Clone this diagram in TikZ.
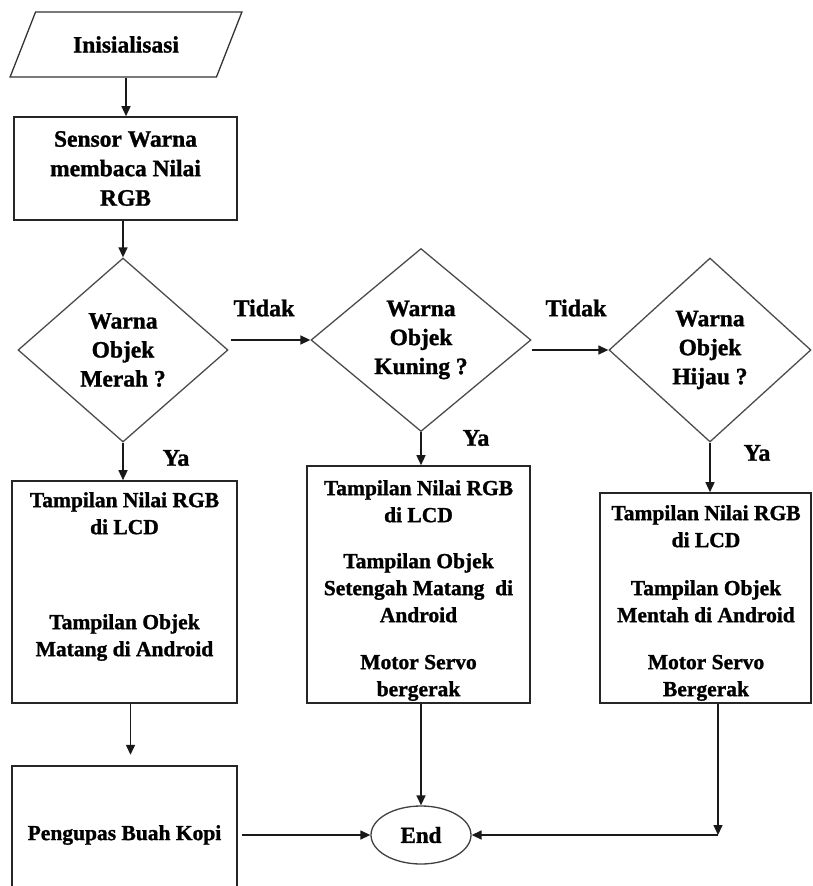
\documentclass[tikz,border=0pt]{standalone}
\usepackage{fontspec}
\setmainfont{Liberation Serif}[BoldFeatures={FakeBold=1.2}]
\usetikzlibrary{shapes.geometric,arrows.meta,calc}
\begin{document}
\begin{tikzpicture}[x=1pt,y=-1pt,
  every node/.style={font=\bfseries\fontsize{21.5}{27}\selectfont, align=center, inner sep=0pt, text=black},
  boxline/.style={draw=black!85, line width=1.6pt},
  proc/.style={rectangle, boxline},
  dec/.style={diamond, draw=black!70, line width=1.3pt, font=\bfseries\fontsize{23.5}{29}\selectfont},
  arr/.style={line width=1.4pt, draw=black!90, -{Triangle[length=10pt,width=9pt]}},
  lbl/.style={font=\bfseries\fontsize{24}{27}\selectfont},
]
\useasboundingbox (0,0) rectangle (812,886);

% start
\node[trapezium, trapezium left angle=48, trapezium right angle=132, trapezium stretches=true,
      draw=black!80, line width=1.3pt, minimum width=232pt, minimum height=65pt,
      font=\bfseries\fontsize{23.5}{27}\selectfont] (init) at (126,44.5) {Inisialisasi};

% sensor
\node[proc, minimum width=223pt, minimum height=103pt, font=\bfseries\fontsize{23.5}{29.5}\selectfont] (sensor) at (125.5,168.5) {Sensor Warna\\membaca Nilai\\RGB};

% decisions
\node[dec, minimum width=210pt, minimum height=184pt] (d1) at (123,350) {Warna\\Objek\\Merah ?};
\node[dec, minimum width=220pt, minimum height=183pt] (d2) at (421,340) {Warna\\Objek\\Kuning ?};
\node[dec, minimum width=202pt, minimum height=184pt] (d3) at (710,350) {Warna\\Objek\\Hijau ?};

% process boxes
\node[proc, minimum width=225pt, minimum height=222pt] (b1) at (124.5,592) {};
\node (t1) [anchor=north] at (124.5,492) {Tampilan Nilai RGB\\di LCD\\[68pt]Tampilan Objek\\Matang di Android};

\node[proc, minimum width=223pt, minimum height=237pt] (b2) at (418.5,584.5) {};
\node (t2) [anchor=north] at (418.5,480) {Tampilan Nilai RGB\\di LCD\\[19pt]Tampilan Objek\\Setengah Matang\ \ di\\Android\\[20pt]Motor Servo\\bergerak};

\node[proc, minimum width=211pt, minimum height=210pt] (b3) at (705.5,598) {};
\node (t3) [anchor=north] at (706,505) {Tampilan Nilai RGB\\di LCD\\[21pt]Tampilan Objek\\Mentah di Android\\[20pt]Motor Servo\\Bergerak};

% pengupas (bottom edge cut off by the page)
\node[rectangle, minimum width=225pt, minimum height=138pt] (peng) at (124.5,835) {Pengupas Buah Kopi};
\draw[boxline] (peng.south west) -- (peng.north west) -- (peng.north east) -- (peng.south east);

% end
\node[ellipse, draw=black!75, line width=1.3pt, minimum width=100pt, minimum height=58pt,
      font=\bfseries\fontsize{23}{27}\selectfont] (endn) at (421,835) {End};

% connectors
\draw[arr] (init.south) -- (init.south |- sensor.north);
\draw[arr] (sensor.south -| d1.north) -- (d1.north);
\draw[arr] (d1.south) -- (d1.south |- b1.north);
\draw[arr] (d2.south) -- (d2.south |- b2.north);
\draw[arr] (d3.south) -- (d3.south |- b3.north);

\coordinate (tA) at ($(d1.east)+(2,0)$);
\draw[arr] (tA |- d2.west) -- (d2.west);
\draw[arr] (d2.east |- d3.west) -- (d3.west);

\draw[arr] ($(b1.south)+(6,0)$) -- ($(peng.north)+(6,-11)$);
\draw[arr] ($(peng.east)+(5,0)$) -- (endn.west);
\draw[arr] (b2.south -| endn.north) -- (endn.north);

\coordinate (c3) at (718,835);
\draw[arr] (b3.south -| c3) -- (c3);
\draw[arr] (c3) -- (endn.east);

% labels
\node[lbl] (lt1) at (264,308) {Tidak};
\node[lbl] (lt2) at (576,308) {Tidak};
\node[lbl] (ly1) at (176,458) {Ya};
\node[lbl] (ly2) at (476,438) {Ya};
\node[lbl] (ly3) at (757,453) {Ya};
\end{tikzpicture}
\end{document}
